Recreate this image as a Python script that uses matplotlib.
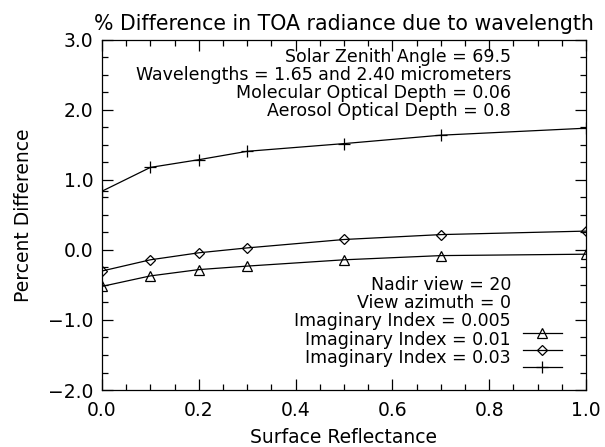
import matplotlib
matplotlib.use("Agg")
import matplotlib.pyplot as plt
from matplotlib.ticker import MultipleLocator, FuncFormatter

reflectance = [0.0, 0.1, 0.2, 0.3, 0.5, 0.7, 1.0]
diff_005 = [-0.52, -0.37, -0.28, -0.23, -0.14, -0.08, -0.06]
diff_01 = [-0.30, -0.14, -0.04, 0.03, 0.15, 0.22, 0.27]
diff_03 = [0.84, 1.18, 1.29, 1.41, 1.52, 1.64, 1.74]
labels = ["Imaginary Index = 0.005", "Imaginary Index = 0.01", "Imaginary Index = 0.03"]
markers = ["^", "D", "+"]
marker_sizes = [7, 5, 8]
info_top = ["Solar Zenith Angle = 69.5",
            "Wavelengths = 1.65 and 2.40 micrometers",
            "Molecular Optical Depth = 0.06",
            "Aerosol Optical Depth = 0.8"]
info_bot = ["Nadir view = 20", "View azimuth = 0"]
legend_line_y = [-1.186, -1.429, -1.671]

plt.rcParams['font.family'] = ['DejaVu Sans']
fig = plt.figure(figsize=(6.05, 4.47), dpi=100)
ax = fig.add_axes([102/605, 1-390/447, 484/605, 350/447])

series = [diff_005, diff_01, diff_03]
for ys, m, ms in zip(series, markers, marker_sizes):
    ax.plot(reflectance, ys, color='black', lw=0.9, marker=m, ms=ms,
            mfc='none', mec='black', mew=0.9, clip_on=True)

fmt = FuncFormatter(lambda v, p: ("%.1f" % v).replace("-", "\u2212"))
ax.set_xlim(0, 1.0)
ax.set_ylim(-2.0, 3.0)
ax.xaxis.set_major_locator(MultipleLocator(0.2))
ax.xaxis.set_minor_locator(MultipleLocator(0.05))
ax.yaxis.set_major_locator(MultipleLocator(1.0))
ax.yaxis.set_minor_locator(MultipleLocator(0.25))
ax.xaxis.set_major_formatter(fmt)
ax.yaxis.set_major_formatter(fmt)
ax.tick_params(which='both', direction='in', top=True, right=True, width=0.9)
ax.tick_params(which='major', length=8, labelsize=13.5, pad=6)
ax.tick_params(which='minor', length=4.5)
ax.tick_params(axis='x', which='major', pad=8)
for s in ax.spines.values():
    s.set_linewidth(0.9)

ax.set_xlabel("Surface Reflectance", fontsize=13.5, labelpad=6)
ax.set_ylabel("Percent Difference", fontsize=13.5, labelpad=11)
ax.set_title("% Difference in TOA radiance due to wavelength", fontsize=14.8, pad=7)

# upper info block (baseline of last line at pixel row ~116)
ax.text(0.845, 3 - (116 - 40) / 70, "\n".join(info_top), ha='right', va='baseline',
        multialignment='right', fontsize=12.5, linespacing=0.99)
# lower info block with legend labels (baseline of last line at pixel row ~363)
ax.text(0.845, 3 - (363 - 40) / 70, "\n".join(info_bot + labels), ha='right', va='baseline',
        multialignment='right', fontsize=12.5, linespacing=1.02)
for y, m, ms in zip(legend_line_y, markers, marker_sizes):
    ax.plot([0.870, 0.950], [y, y], color='black', lw=0.9)
    ax.plot([0.909], [y], marker=m, ms=ms, mfc='none', mec='black', mew=0.9)

fig.savefig("out.png", dpi=100)
